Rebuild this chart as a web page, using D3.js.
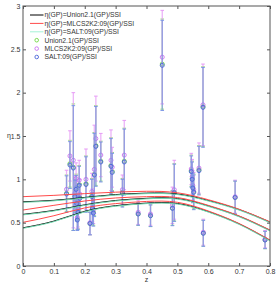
<!DOCTYPE html>
<html>
<head>
<meta charset="utf-8">
<script src="https://cdn.jsdelivr.net/npm/d3@7"></script>
<style>
  body { margin: 0; background: #fff; }
  text { font-family: "Liberation Sans", Arial, sans-serif; fill: #333; }
</style>
</head>
<body>
<div id="chart"></div>
<script>
let width = 277
let height = 284

// model curves sampled at z = 0, 0.1 ... 0.8
let zGrid = [0, 0.1, 0.2, 0.3, 0.4, 0.5, 0.6, 0.7, 0.8]
let unionHi  = [0.741, 0.758, 0.791, 0.824, 0.841, 0.831, 0.756, 0.651, 0.506]
let unionMid = [0.596, 0.641, 0.706, 0.756, 0.781, 0.778, 0.694, 0.574, 0.411]
let unionLo  = [0.441, 0.518, 0.631, 0.696, 0.726, 0.721, 0.628, 0.486, 0.296]
let mlcsHi   = [0.80, 0.815, 0.835, 0.852, 0.862, 0.845, 0.765, 0.655, 0.51]
let mlcsMid  = [0.646, 0.70, 0.75, 0.785, 0.80, 0.79, 0.70, 0.578, 0.415]
let mlcsLo   = [0.504, 0.58, 0.67, 0.72, 0.745, 0.735, 0.635, 0.49, 0.30]
let saltHi   = [0.735, 0.752, 0.785, 0.818, 0.835, 0.825, 0.75, 0.645, 0.50]
let saltMid  = [0.59, 0.635, 0.70, 0.75, 0.775, 0.772, 0.688, 0.568, 0.405]
let saltLo   = [0.435, 0.512, 0.625, 0.69, 0.72, 0.715, 0.622, 0.48, 0.29]

// cluster data points
let zData = [0.141, 0.152, 0.163, 0.168, 0.172, 0.174, 0.176, 0.178, 0.182, 0.184,
  0.204, 0.217, 0.223, 0.225, 0.228, 0.231, 0.236, 0.252, 0.285, 0.289,
  0.322, 0.328, 0.373, 0.413, 0.451, 0.484, 0.490, 0.545, 0.548, 0.550,
  0.553, 0.570, 0.583, 0.584, 0.687, 0.784]
let saltEta = [0.83, 1.165, 1.13, 0.80, 0.885, 0.72, 0.53, 0.62, 0.93, 0.78,
  0.94, 0.49, 0.80, 0.665, 0.61, 1.05, 1.38, 1.20, 1.15, 1.08,
  0.84, 1.20, 0.60, 0.58, 2.315, 0.665, 0.845, 1.09, 1.00, 0.90,
  0.85, 1.10, 1.83, 0.377, 0.79, 0.30]
let saltErr = [0.21, 0.27, 0.72, 0.19, 0.16, 0.20, 0.12, 0.20, 0.22, 0.16,
  0.32, 0.13, 0.20, 0.18, 0.15, 0.48, 0.46, 0.23, 0.32, 0.22,
  0.16, 0.38, 0.13, 0.125, 0.52, 0.20, 0.33, 0.18, 0.20, 0.17,
  0.20, 0.28, 0.46, 0.15, 0.19, 0.10]
let mlcsEta = [0.885, 1.27, 1.22, 0.84, 1.01, 0.77, 0.56, 0.66, 0.99, 0.83,
  1.00, 0.50, 0.86, 0.70, 0.65, 1.115, 1.47, 1.28, 1.22, 1.14,
  0.88, 1.28, 0.62, 0.60, 2.41, 0.70, 0.88, 1.12, 1.03, 0.93,
  0.88, 1.13, 1.86, 0.39, 0.80, 0.31]
let mlcsErr = [0.22, 0.29, 0.78, 0.20, 0.18, 0.21, 0.13, 0.21, 0.23, 0.17,
  0.35, 0.14, 0.21, 0.19, 0.16, 0.51, 0.49, 0.25, 0.35, 0.23,
  0.17, 0.40, 0.14, 0.13, 0.54, 0.21, 0.34, 0.18, 0.20, 0.17,
  0.20, 0.29, 0.47, 0.15, 0.19, 0.10]
let unionEta = [0.84, 1.18, 1.14, 0.81, 0.90, 0.73, 0.54, 0.63, 0.94, 0.79,
  0.95, 0.49, 0.81, 0.67, 0.62, 1.06, 1.39, 1.21, 1.16, 1.09,
  0.85, 1.21, 0.60, 0.58, 2.33, 0.67, 0.85, 1.10, 1.01, 0.91,
  0.86, 1.11, 1.84, 0.38, 0.79, 0.30]
let unionErr = [0.21, 0.27, 0.73, 0.19, 0.16, 0.20, 0.12, 0.20, 0.22, 0.16,
  0.32, 0.13, 0.20, 0.18, 0.15, 0.48, 0.46, 0.23, 0.32, 0.22,
  0.16, 0.38, 0.13, 0.125, 0.52, 0.20, 0.33, 0.18, 0.20, 0.17,
  0.20, 0.28, 0.46, 0.15, 0.19, 0.10]

let xTicks = [0, 0.1, 0.2, 0.3, 0.4, 0.5, 0.6, 0.7, 0.8]
let yTicks = [0, 0.5, 1, 1.5, 2, 2.5, 3]

let legendNames = ["η(GP)=Union2.1(GP)/SSI", "η(GP)=MLCS2K2:09(GP)/SSI", "η(GP)=SALT:09(GP)/SSI",
  "Union2.1(GP)/SSI", "MLCS2K2:09(GP)/SSI", "SALT:09(GP)/SSI"]

let padL = 23, padR = 270, padT = 6, padB = 266

let x = d3.scaleLinear().domain([0, 0.8]).range([padL, padR])
let y = d3.scaleLinear().domain([0, 3]).range([padB, padT])

let svg = d3.select("#chart")
  .append("svg")
    .attr("width", width)
    .attr("height", height)

let plot = svg.append("g")

// error bars + markers: green (Union), magenta (MLCS), blue (SALT)
let sets = [
  { eta: unionEta, err: unionErr, bar: "#9be07a", mark: "#6fd640" },
  { eta: mlcsEta, err: mlcsErr, bar: "#e69af5", mark: "#c86ef0" },
  { eta: saltEta, err: saltErr, bar: "#7b96e6", mark: "#4a64d8" }
]

sets.forEach(function(s) {
  let pts = zData.map(function(z, i) { return { z: z, v: s.eta[i], e: s.err[i] } })
  let g = plot.append("g")
  g.selectAll("line.bar").data(pts).enter().append("line")
    .attr("x1", d => x(d.z)).attr("x2", d => x(d.z))
    .attr("y1", d => y(d.v - d.e)).attr("y2", d => y(d.v + d.e))
    .attr("stroke", s.bar).attr("stroke-width", 1.3).attr("stroke-opacity", 0.75)
  g.selectAll("line.capt").data(pts).enter().append("line")
    .attr("x1", d => x(d.z) - 1.8).attr("x2", d => x(d.z) + 1.8)
    .attr("y1", d => y(d.v + d.e)).attr("y2", d => y(d.v + d.e))
    .attr("stroke", s.bar).attr("stroke-width", 1)
  g.selectAll("line.capb").data(pts).enter().append("line")
    .attr("x1", d => x(d.z) - 1.8).attr("x2", d => x(d.z) + 1.8)
    .attr("y1", d => y(d.v - d.e)).attr("y2", d => y(d.v - d.e))
    .attr("stroke", s.bar).attr("stroke-width", 1)
  g.selectAll("circle").data(pts).enter().append("circle")
    .attr("cx", d => x(d.z)).attr("cy", d => y(d.v))
    .attr("r", 2)
    .attr("fill", "none")
    .attr("stroke", s.mark).attr("stroke-width", 0.9)
})

// curves
let line = d3.line()
  .x((d, i) => x(zGrid[i]))
  .y(d => y(d))
  .curve(d3.curveNatural)

let curves = [
  { data: [unionHi, unionMid, unionLo], color: "#000000" },
  { data: [mlcsHi, mlcsMid, mlcsLo], color: "#ff4a4a" },
  { data: [saltHi, saltMid, saltLo], color: "#6fd8ae" }
]
curves.forEach(function(c) {
  c.data.forEach(function(arr) {
    plot.append("path")
      .attr("d", line(arr))
      .attr("fill", "none")
      .attr("stroke", c.color)
      .attr("stroke-width", 1)
  })
})

// axes box with inner ticks
let axisColor = "#555"
svg.append("rect")
  .attr("x", padL).attr("y", padT)
  .attr("width", padR - padL).attr("height", padB - padT)
  .attr("fill", "none").attr("stroke", axisColor).attr("stroke-width", 1)

let bottomAxis = svg.append("g")
  .attr("transform", "translate(0," + padB + ")")
  .call(d3.axisBottom(x).tickValues(xTicks).tickSize(-3).tickPadding(3).tickFormat(d3.format("")))
let topAxis = svg.append("g")
  .attr("transform", "translate(0," + padT + ")")
  .call(d3.axisTop(x).tickValues(xTicks).tickSize(-3).tickFormat(""))
let leftAxis = svg.append("g")
  .attr("transform", "translate(" + padL + ",0)")
  .call(d3.axisLeft(y).tickValues(yTicks).tickSize(-3).tickPadding(2.5).tickFormat(d3.format("")))
let rightAxis = svg.append("g")
  .attr("transform", "translate(" + padR + ",0)")
  .call(d3.axisRight(y).tickValues(yTicks).tickSize(-3).tickFormat(""))

;[bottomAxis, topAxis, leftAxis, rightAxis].forEach(function(a) {
  a.select(".domain").remove()
  a.selectAll(".tick line").attr("stroke", axisColor)
  a.selectAll("text").style("font-size", "7px").attr("fill", "#333")
    .style("font-family", "'Liberation Sans', Arial, sans-serif")
})

svg.append("text")
  .attr("x", x(0.4)).attr("y", 282)
  .attr("text-anchor", "middle")
  .style("font-size", "7px")
  .text("z")

svg.append("text")
  .attr("x", 9).attr("y", 138)
  .attr("text-anchor", "middle")
  .style("font-size", "7px")
  .text("η")

// legend
let legend = svg.append("g")
let legendColors = ["#000000", "#ff4a4a", "#a6f2d6", "#6fd640", "#c86ef0", "#4a64d8"]
legendNames.forEach(function(name, i) {
  let ly = 15 + i * 8.4
  if (i < 3) {
    legend.append("line")
      .attr("x1", 30).attr("x2", 43.5)
      .attr("y1", ly).attr("y2", ly)
      .attr("stroke", legendColors[i]).attr("stroke-width", 1)
  } else {
    legend.append("circle")
      .attr("cx", 36.7).attr("cy", ly).attr("r", 1.8)
      .attr("fill", "none").attr("stroke", legendColors[i]).attr("stroke-width", 0.9)
  }
  legend.append("text")
    .attr("x", 44.5).attr("y", ly + 2.4)
    .style("font-size", "6.8px")
    .text(name)
})
</script>
</body>
</html>
